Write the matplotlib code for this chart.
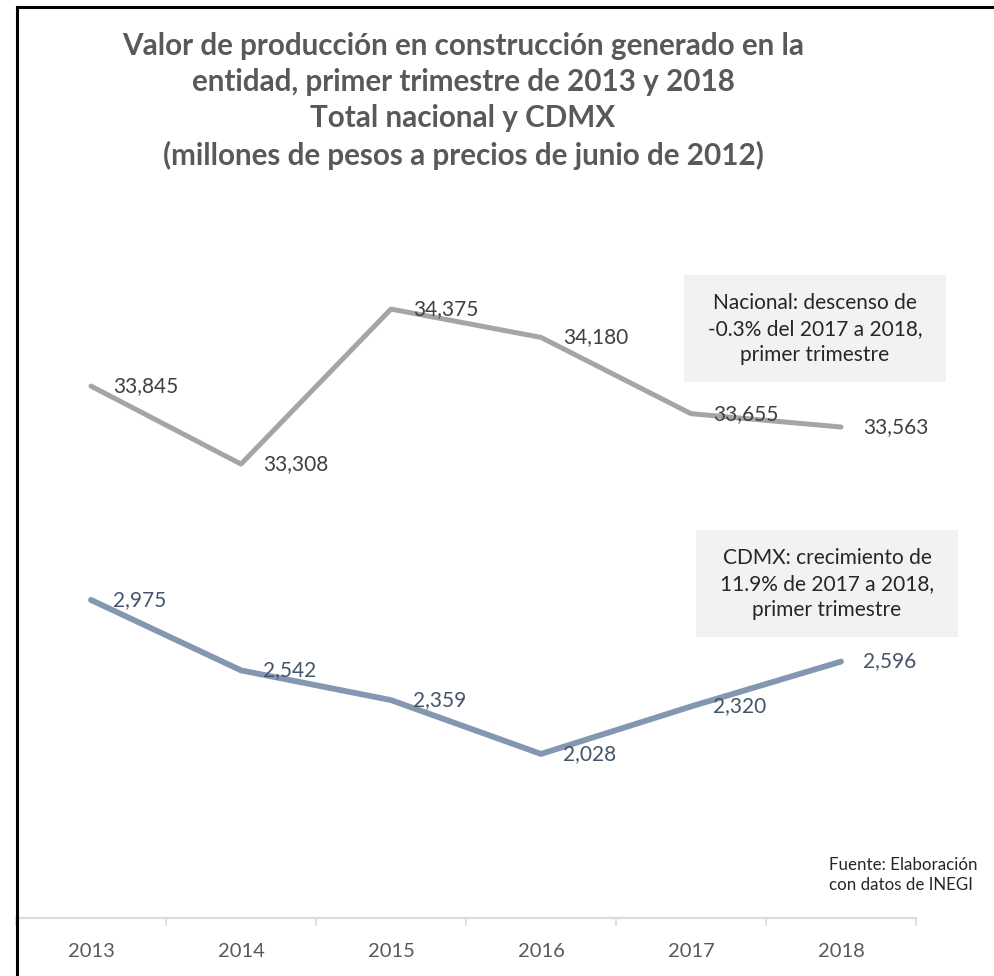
"""Valor de producción en construcción: Nacional vs CDMX, primer trimestre 2013-2018."""
import matplotlib
matplotlib.use("Agg")
import matplotlib.pyplot as plt
from matplotlib.patches import Rectangle
from matplotlib.lines import Line2D

plt.rcParams["font.family"] = ["Lato", "DejaVu Sans"]

YEARS = ["2013", "2014", "2015", "2016", "2017", "2018"]
NACIONAL = [33845, 33308, 34375, 34180, 33655, 33563]
CDMX = [2975, 2542, 2359, 2028, 2320, 2596]

TITLE = ("Valor de producción en construcción generado en la\n"
         "entidad, primer trimestre de 2013 y 2018\n"
         "Total nacional y CDMX\n"
         "(millones de pesos a precios de junio de 2012)")
NOTE_NAC = "Nacional: descenso de\n-0.3% del 2017 a 2018,\nprimer trimestre"
NOTE_CDMX = "CDMX: crecimiento de\n11.9% de 2017 a 2018,\nprimer trimestre"
SOURCE = "Fuente: Elaboración\ncon datos de INEGI"

W, H = 994, 976
fig = plt.figure(figsize=(W / 100, H / 100), dpi=100)

def fx(px): return px / W
def fy(py): return 1 - py / H

ax = fig.add_axes([fx(16), fy(918), fx(916) - fx(16), fy(218) - fy(918)])
ax2 = ax.twinx()
x = range(len(YEARS))

ax.plot(x, NACIONAL, color="#A5A5A5", lw=3.6, solid_capstyle="round", solid_joinstyle="round")
ax2.plot(x, CDMX, color="#8497B0", lw=4.2, solid_capstyle="round", solid_joinstyle="round")
for i, v in enumerate(NACIONAL):
    ax.annotate(f"{v:,}", (i, v), xytext=(16, 0), textcoords="offset points",
                ha="left", va="center", fontsize=15, color="#404040")
for i, v in enumerate(CDMX):
    ax2.annotate(f"{v:,}", (i, v), xytext=(16, 0), textcoords="offset points",
                 ha="left", va="center", fontsize=15, color="#44546A")

ax.set_xlim(-0.5, len(YEARS) - 0.5)
ax.set_ylim(30183, 35002)
ax2.set_ylim(1019, 5324)
ax.set_xticks(list(x))
ax.set_xticklabels(YEARS, fontsize=14.5, color="#595959")
ax.set_xticks([i - 0.5 for i in range(len(YEARS) + 1)], minor=True)
ax.tick_params(axis="x", which="major", length=0, pad=18)
ax.tick_params(axis="x", which="minor", length=6, width=1.2, color="#D6DCE5")
ax.set_yticks([]); ax2.set_yticks([])
for a in (ax, ax2):
    for s in ("top", "right", "left"):
        a.spines[s].set_visible(False)
    a.spines["bottom"].set_color("#D6DCE5")
    a.spines["bottom"].set_linewidth(1.5)
    a.patch.set_visible(False)

fig.text(fx(463), fy(101), TITLE, ha="center", va="center", fontsize=21.3,
         fontweight="bold", color="#595959", linespacing=1.36)

fig.patches.append(Rectangle((fx(684), fy(382)), fx(946) - fx(684), fy(275) - fy(382),
                             transform=fig.transFigure, facecolor="#F2F2F2", edgecolor="none"))
fig.text(fx(815), fy(329), NOTE_NAC, ha="center", va="center", fontsize=15,
         color="#262626", linespacing=1.35)
fig.patches.append(Rectangle((fx(696), fy(637)), fx(958) - fx(696), fy(530) - fy(637),
                             transform=fig.transFigure, facecolor="#F2F2F2", edgecolor="none"))
fig.text(fx(827), fy(584), NOTE_CDMX, ha="center", va="center", fontsize=15,
         color="#262626", linespacing=1.35)

fig.text(fx(829), fy(875), SOURCE, ha="left", va="center", fontsize=12.2,
         color="#262626", linespacing=1.3)

# outer frame (left and top edges visible)
fig.add_artist(Line2D([fx(17), fx(17)], [0, fy(7)], color="black", lw=2.2, transform=fig.transFigure))
fig.add_artist(Line2D([fx(17), 1], [fy(7), fy(7)], color="black", lw=2.2, transform=fig.transFigure))

fig.savefig("out.png", dpi=100)
